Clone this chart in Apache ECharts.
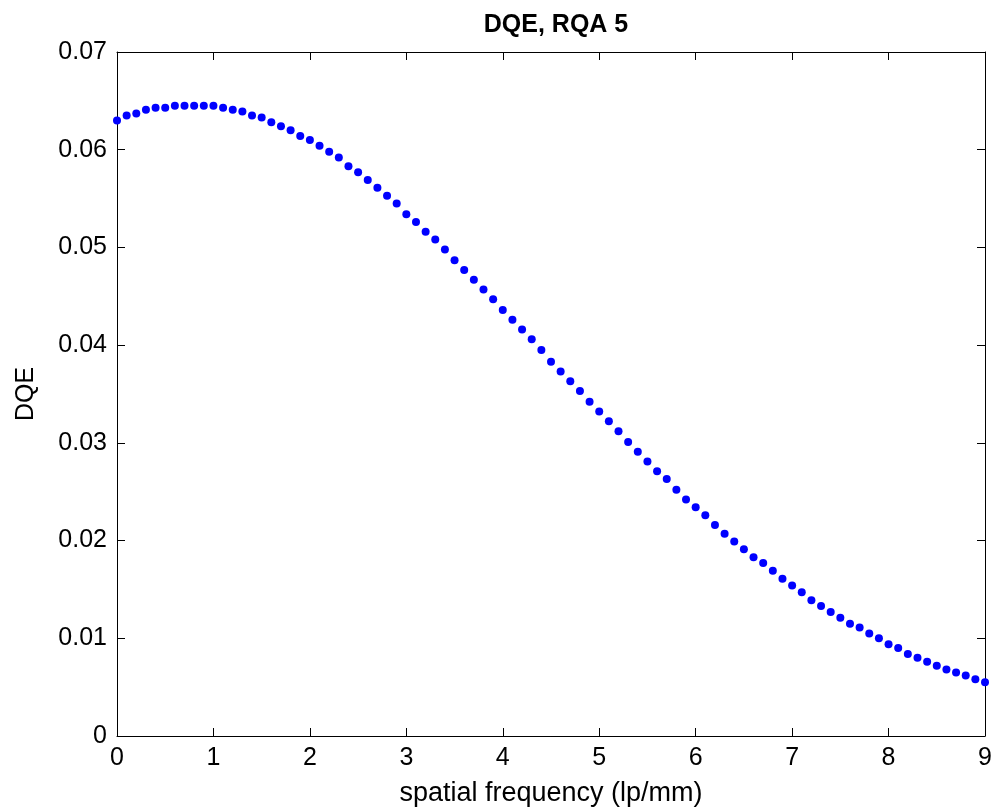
<!DOCTYPE html>
<html>
<head>
<meta charset="utf-8">
<script src="https://cdn.jsdelivr.net/npm/echarts@6/dist/echarts.min.js"></script>
<style>html,body{margin:0;padding:0;background:#fff;}#c{width:996px;height:812px;}</style>
</head>
<body>
<div id="c"></div>
<script>
var freq = [0.0,0.1,0.2,0.3,0.4,0.5,0.6,0.7,0.8,0.9,
  1.0,1.1,1.2,1.3,1.4,1.5,1.6,1.7,1.8,1.9,
  2.0,2.1,2.2,2.3,2.4,2.5,2.6,2.7,2.8,2.9,
  3.0,3.1,3.2,3.3,3.4,3.5,3.6,3.7,3.8,3.9,
  4.0,4.1,4.2,4.3,4.4,4.5,4.6,4.7,4.8,4.9,
  5.0,5.1,5.2,5.3,5.4,5.5,5.6,5.7,5.8,5.9,
  6.0,6.1,6.2,6.3,6.4,6.5,6.6,6.7,6.8,6.9,
  7.0,7.1,7.2,7.3,7.4,7.5,7.6,7.7,7.8,7.9,
  8.0,8.1,8.2,8.3,8.4,8.5,8.6,8.7,8.8,8.9,9.0];
var dqe = [0.0630,0.0635,0.0637,0.0641,0.0643,0.0643,0.0645,0.0645,0.0645,0.0645,
  0.0645,0.0643,0.0641,0.0639,0.0635,0.0633,0.0628,0.0624,0.0620,0.0614,
  0.0610,0.0604,0.0598,0.0592,0.0583,0.0577,0.0569,0.0561,0.0553,0.0545,
  0.0534,0.0526,0.0516,0.0508,0.0498,0.0487,0.0477,0.0467,0.0457,0.0447,
  0.0436,0.0426,0.0416,0.0406,0.0395,0.0383,0.0373,0.0363,0.0353,0.0342,
  0.0332,0.0322,0.0312,0.0301,0.0291,0.0281,0.0271,0.0263,0.0252,0.0242,
  0.0234,0.0226,0.0216,0.0207,0.0199,0.0191,0.0183,0.0177,0.0169,0.0161,
  0.0154,0.0147,0.0139,0.0133,0.0127,0.0121,0.0115,0.0111,0.0105,0.0100,
  0.0094,0.0090,0.0084,0.0080,0.0076,0.0072,0.0068,0.0065,0.0062,0.0058,0.0055];
var xTicks = ['0','1','2','3','4','5','6','7','8','9'];
var yTicks = ['0','0.01','0.02','0.03','0.04','0.05','0.06','0.07'];
var titleText = 'DQE, RQA 5';
var xName = 'spatial frequency (lp/mm)';
var yName = 'DQE';

var font = '"Liberation Sans", Arial, sans-serif';
var points = freq.map(function (f, i) { return [f, dqe[i]]; });
var lineStyle = { color: '#000', width: 1 };
var chart = echarts.init(document.getElementById('c'), null, { renderer: 'canvas' });
function axisBase() {
  return {
    axisLine: { show: true, onZero: false, lineStyle: lineStyle },
    axisTick: { show: true, inside: true, length: 8, lineStyle: lineStyle },
    splitLine: { show: false }
  };
}
var xMain = Object.assign(axisBase(), {
  type: 'value', min: 0, max: 9, interval: 1, position: 'bottom',
  name: xName, nameLocation: 'middle', nameGap: 44,
  nameTextStyle: { fontFamily: font, fontSize: 27, color: '#000' },
  axisLabel: { fontFamily: font, fontSize: 25, color: '#000', margin: 10,
    formatter: function (v) { return xTicks[Math.round(v)]; } }
});
var xTop = Object.assign(axisBase(), {
  type: 'value', min: 0, max: 9, interval: 1, position: 'top',
  axisLabel: { show: false }
});
var yMain = Object.assign(axisBase(), {
  type: 'value', min: 0, max: 0.07, interval: 0.01, position: 'left',
  name: yName, nameLocation: 'middle', nameGap: 78,
  nameTextStyle: { fontFamily: font, fontSize: 25, color: '#000' },
  axisLabel: { fontFamily: font, fontSize: 25, color: '#000', margin: 10,
    formatter: function (v) { return yTicks[Math.round(v * 100)]; } }
});
var yRight = Object.assign(axisBase(), {
  type: 'value', min: 0, max: 0.07, interval: 0.01, position: 'right',
  axisLabel: { show: false }
});
chart.setOption({
  backgroundColor: '#fff',
  animation: false,
  title: {
    text: titleText, left: 551, top: 8, textAlign: 'center',
    textStyle: { fontFamily: font, fontSize: 25, fontWeight: 'bold', color: '#000' }
  },
  grid: { left: 117, right: 11, top: 52, bottom: 75, containLabel: false },
  xAxis: [xMain, xTop],
  yAxis: [yMain, yRight],
  series: [{
    type: 'scatter', xAxisIndex: 0, yAxisIndex: 0,
    data: points, symbol: 'circle', symbolSize: 8,
    itemStyle: { color: '#0000ff', opacity: 1 }
  }]
});
</script>
</body>
</html>
